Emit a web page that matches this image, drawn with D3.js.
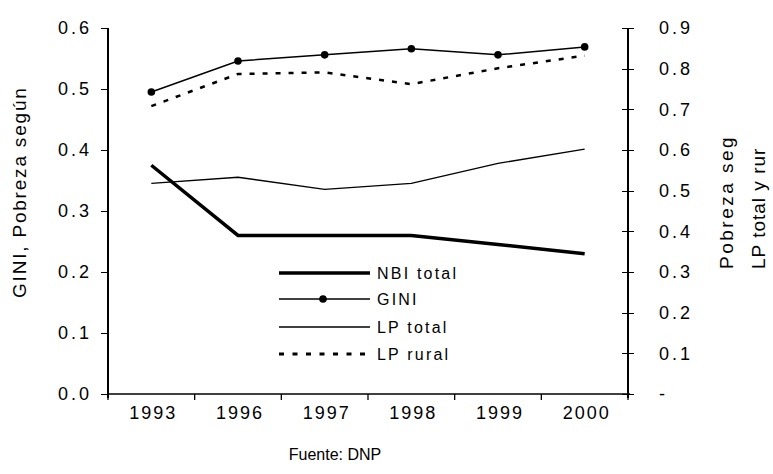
<!DOCTYPE html>
<html>
<head>
<meta charset="utf-8">
<script src="https://cdn.jsdelivr.net/npm/d3@7"></script>
<style>
	body { margin: 0; background: #fff; }
	text { font-family: "Liberation Sans", Arial, sans-serif; fill: #000; }
	.axis path, .axis line { stroke: #000; stroke-width: 1.3; shape-rendering: crispEdges; }
	.axis text { font-size: 18px; letter-spacing: 3px; }
</style>
</head>
<body>
<div id="chart"></div>
<script>
var years = ['1993', '1996', '1997', '1998', '1999', '2000'];
var nbiTotal = [0.375, 0.26, 0.26, 0.26, 0.245, 0.23];
var gini = [0.495, 0.546, 0.556, 0.566, 0.556, 0.569];
var lpTotal = [0.518, 0.533, 0.503, 0.518, 0.567, 0.602];
var lpRural = [0.708, 0.787, 0.791, 0.762, 0.801, 0.832];
var leftTicks = [0, 0.1, 0.2, 0.3, 0.4, 0.5, 0.6];
var rightTicks = [0, 0.1, 0.2, 0.3, 0.4, 0.5, 0.6, 0.7, 0.8, 0.9];
var legendLabels = ['NBI total', 'GINI', 'LP total', 'LP rural'];

var width = 773, height = 474;
var plot = { left: 108, right: 628, top: 28, bottom: 394 };

var svg = d3.select('#chart').append('svg')
	.attr('width', width)
	.attr('height', height);

var x = d3.scaleBand().domain(years).range([plot.left, plot.right]);
var yL = d3.scaleLinear().domain([0, 0.6]).range([plot.bottom, plot.top]);
var yR = d3.scaleLinear().domain([0, 0.9]).range([plot.bottom, plot.top]);

function px(i) { return x(years[i]) + x.bandwidth() / 2; }

// x axis line and boundary ticks
svg.append('line')
	.attr('x1', plot.left).attr('x2', plot.right + 2).attr('y1', plot.bottom).attr('y2', plot.bottom)
	.attr('stroke', '#000').attr('stroke-width', 1.3);

var bounds = years.map(function(d) { return x(d); }).concat([x.range()[1]]);
svg.selectAll('.xtick').data(bounds).enter().append('line')
	.attr('x1', function(d) { return d; }).attr('x2', function(d) { return d; })
	.attr('y1', plot.bottom).attr('y2', plot.bottom + 6)
	.attr('stroke', '#000').attr('stroke-width', 1.3);

svg.selectAll('.xlabel').data(years).enter().append('text')
	.attr('x', function(d) { return x(d) + x.bandwidth() / 2 + 2; })
	.attr('y', 419)
	.attr('text-anchor', 'middle')
	.style('font-size', '18px')
	.style('letter-spacing', '2px')
	.text(function(d) { return d; });

// left axis
var yAxisL = d3.axisLeft(yL).tickValues(leftTicks).tickSize(7).tickSizeOuter(0).tickPadding(9)
	.tickFormat(d3.format('.1f'));
var gL = svg.append('g').attr('class', 'axis')
	.attr('transform', 'translate(' + plot.left + ',0)')
	.call(yAxisL);
gL.select('.domain').attr('d', 'M0,' + plot.top + 'V' + (plot.bottom + 4));

// right axis, ticks cross the line
var yAxisR = d3.axisRight(yR).tickValues(rightTicks).tickSize(6).tickSizeOuter(0).tickPadding(25)
	.tickFormat(function(d) { return d === 0 ? '-' : d3.format('.1f')(d); });
var gR = svg.append('g').attr('class', 'axis')
	.attr('transform', 'translate(' + plot.right + ',0)')
	.call(yAxisR);
gR.select('.domain').attr('d', 'M0,' + plot.top + 'V' + (plot.bottom + 4));
gR.selectAll('.tick line').attr('x1', -6);

// series
var line = function(vals, scale) {
	return d3.line()
		.x(function(d, i) { return px(i); })
		.y(function(d) { return scale(d); })(vals);
};

svg.append('path').attr('d', line(lpRural, yR))
	.attr('fill', 'none').attr('stroke', '#000').attr('stroke-width', 2.5)
	.attr('stroke-dasharray', '5,8');

svg.append('path').attr('d', line(lpTotal, yR))
	.attr('fill', 'none').attr('stroke', '#000').attr('stroke-width', 1.3);

svg.append('path').attr('d', line(nbiTotal, yL))
	.attr('fill', 'none').attr('stroke', '#000').attr('stroke-width', 3.5);

svg.append('path').attr('d', line(gini, yL))
	.attr('fill', 'none').attr('stroke', '#000').attr('stroke-width', 1.5);

svg.selectAll('.gdot').data(gini).enter().append('circle')
	.attr('cx', function(d, i) { return px(i); })
	.attr('cy', function(d) { return yL(d); })
	.attr('r', 3.8);

// legend
var legY = [273, 299, 327, 354];
var legStyles = [
	{ w: 3.5, dash: null, dot: false },
	{ w: 1.5, dash: null, dot: true },
	{ w: 1.3, dash: null, dot: false },
	{ w: 3, dash: '5,8.5', dot: false }
];
var leg = svg.selectAll('.leg').data(legendLabels).enter().append('g')
	.attr('transform', function(d, i) { return 'translate(0,' + legY[i] + ')'; });
leg.append('line')
	.attr('x1', 279).attr('x2', 370).attr('y1', 0).attr('y2', 0)
	.attr('stroke', '#000')
	.attr('stroke-width', function(d, i) { return legStyles[i].w; })
	.attr('stroke-dasharray', function(d, i) { return legStyles[i].dash; });
leg.filter(function(d, i) { return legStyles[i].dot; }).append('circle')
	.attr('cx', 323).attr('cy', 0).attr('r', 3.8);
leg.append('text')
	.attr('x', 377).attr('y', 5.5)
	.style('font-size', '16px')
	.style('letter-spacing', '2.2px')
	.text(function(d) { return d; });

// axis titles
svg.append('text')
	.attr('transform', 'translate(26,298) rotate(-90)')
	.style('font-size', '19px')
	.style('letter-spacing', '1.8px')
	.text('GINI, Pobreza según');

svg.append('text')
	.attr('transform', 'translate(733,269) rotate(-90)')
	.style('font-size', '19px')
	.style('letter-spacing', '2.5px')
	.text('Pobreza seg');

svg.append('text')
	.attr('transform', 'translate(765,269) rotate(-90)')
	.style('font-size', '19px')
	.style('letter-spacing', '1px')
	.text('LP total y rur');

svg.append('text')
	.attr('x', 335).attr('y', 460)
	.attr('text-anchor', 'middle')
	.style('font-size', '16px')
	.text('Fuente: DNP');
</script>
</body>
</html>
